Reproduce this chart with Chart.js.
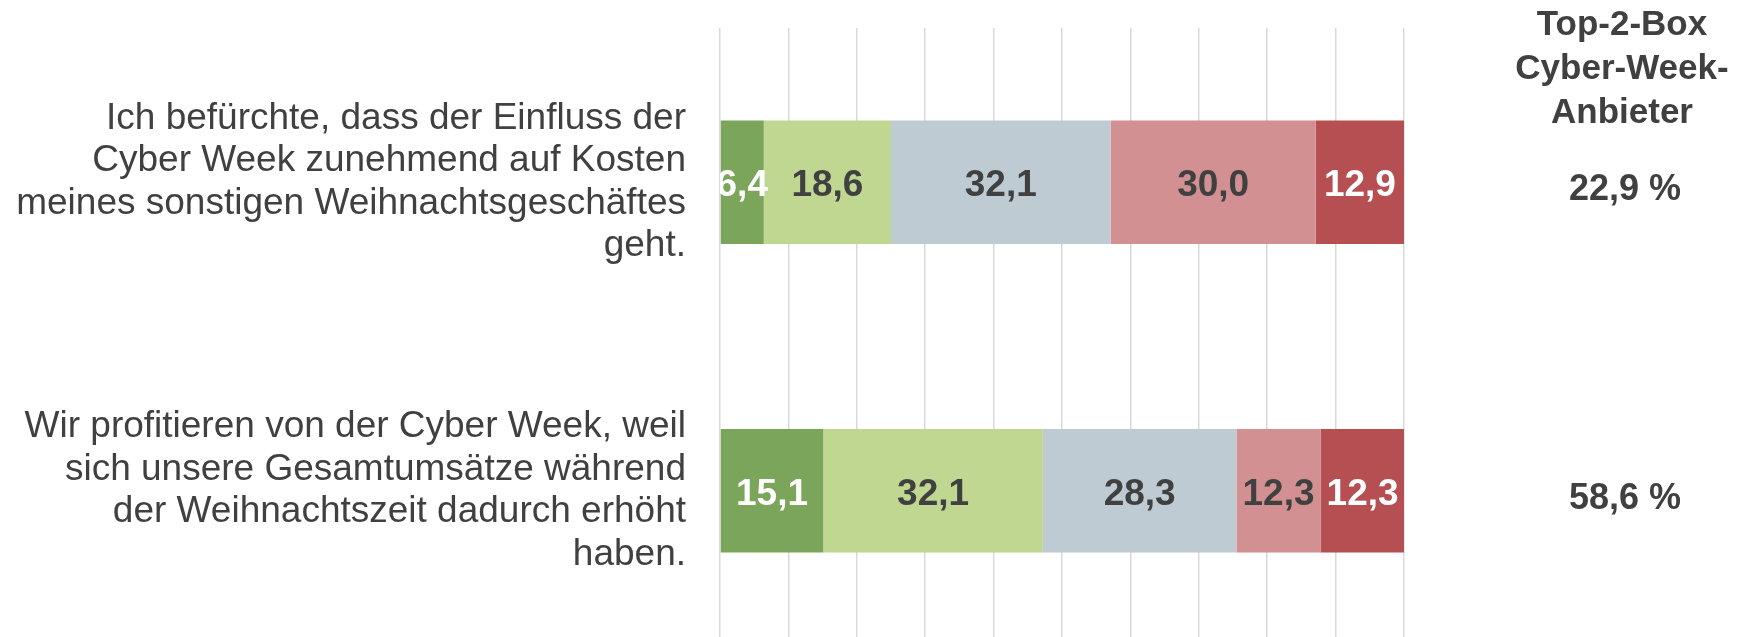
<!DOCTYPE html>
<html>
<head>
<meta charset="utf-8">
<script src="https://cdn.jsdelivr.net/npm/chart.js@4/dist/chart.umd.min.js"></script>
<style>
  html, body { margin: 0; padding: 0; background: #ffffff; overflow: hidden; }
  #wrap { width: 1754px; height: 645px; }
</style>
</head>
<body>
<div id="wrap"><canvas id="myChart"></canvas></div>
<script>
// Statements (y axis categories)
const statements = [
    ["Ich befürchte, dass der Einfluss der", "Cyber Week zunehmend auf Kosten", "meines sonstigen Weihnachtsgeschäftes", "geht."],
    ["Wir profitieren von der Cyber Week, weil", "sich unsere Gesamtumsätze während", "der Weihnachtszeit dadurch erhöht", "haben."]
];

// Answer shares in percent, one array per answer level
const level1 = [6.4, 15.1];
const level2 = [18.6, 32.1];
const level3 = [32.1, 28.3];
const level4 = [30.0, 12.3];
const level5 = [12.9, 12.3];

// Right column: Top-2-Box of Cyber-Week providers
const topBoxTitle = ["Top-2-Box", "Cyber-Week-", "Anbieter"];
const topBoxValues = [22.9, 58.6];

const barColors = ["#7BA55A", "#C0D792", "#BECBD3", "#D39092", "#B54F52"];
const labelColors = ["#FFFFFF", "#404040", "#404040", "#404040", "#FFFFFF"];
const fontFamily = "'Liberation Sans', Arial, sans-serif";

// German number format with one decimal
function fmt(v) {
    return v.toFixed(1).replace('.', ',');
}

// Draws the values inside the bar segments
const segmentLabels = {
    id: 'segmentLabels',
    afterDatasetsDraw(chart) {
        const ctx = chart.ctx;
        const area = chart.chartArea;
        ctx.save();
        ctx.beginPath();
        ctx.rect(area.left, area.top, area.right - area.left, area.bottom - area.top);
        ctx.clip();
        ctx.font = "bold 37px " + fontFamily;
        ctx.textAlign = 'center';
        ctx.textBaseline = 'alphabetic';
        chart.data.datasets.forEach((ds, i) => {
            const meta = chart.getDatasetMeta(i);
            meta.data.forEach((bar, j) => {
                ctx.fillStyle = labelColors[i];
                ctx.fillText(fmt(ds.data[j]), (bar.x + bar.base) / 2, bar.y + 14);
            });
        });
        ctx.restore();
    }
};

// Draws the Top-2-Box column on the right
const topBoxColumn = {
    id: 'topBoxColumn',
    afterDraw(chart) {
        const ctx = chart.ctx;
        const cx = 1622;
        ctx.save();
        ctx.fillStyle = "#404040";
        ctx.textAlign = 'center';
        ctx.textBaseline = 'alphabetic';
        ctx.font = "bold 35px " + fontFamily;
        topBoxTitle.forEach((line, i) => {
            ctx.fillText(line, cx, 35 + i * 44);
        });
        ctx.font = "bold 36px " + fontFamily;
        const yScale = chart.scales.y;
        topBoxValues.forEach((v, i) => {
            ctx.fillText(fmt(v) + " %", cx + 3, yScale.getPixelForValue(i) + 18);
        });
        ctx.restore();
    }
};

const datasets = [level1, level2, level3, level4, level5].map((values, i) => ({
    label: "Stufe " + (i + 1),
    data: values,
    backgroundColor: barColors[i],
    borderWidth: 0,
    categoryPercentage: 1.0,
    barPercentage: 0.4
}));

const chartX = document.getElementById('myChart').getContext('2d');
const chart = new Chart(chartX, {
    type: 'bar',
    data: {
        labels: statements,
        datasets: datasets
    },
    options: {
        indexAxis: 'y',
        responsive: true,
        maintainAspectRatio: false,
        animation: false,
        layout: {
            padding: { top: 28, right: 350, bottom: 0, left: 0 }
        },
        plugins: {
            legend: { display: false },
            tooltip: { enabled: false }
        },
        scales: {
            x: {
                stacked: true,
                min: 0,
                max: 100,
                ticks: { display: false, stepSize: 10 },
                grid: { color: "#D9D9D9", lineWidth: 1.5, drawTicks: false },
                border: { display: false }
            },
            y: {
                stacked: true,
                grid: { display: false },
                border: { display: false },
                ticks: {
                    color: "#404040",
                    padding: 26,
                    font: { family: fontFamily, size: 37, lineHeight: 1.15 }
                },
                afterFit(scale) {
                    // fixed axis width, and no extra room for the tall labels
                    scale.width = 720;
                    scale.paddingTop = 0;
                    scale.paddingBottom = 0;
                }
            }
        }
    },
    plugins: [segmentLabels, topBoxColumn]
});
</script>
</body>
</html>
